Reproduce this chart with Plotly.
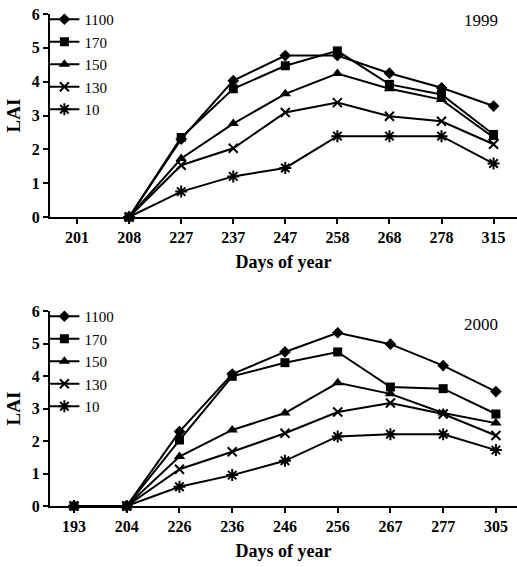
import plotly.graph_objects as go

series_names = ["1100", "170", "150", "130", "10"]
symbols = ["diamond", "square", "triangle-up", "x-thin-open", "asterisk-open"]

days_1999 = ["201", "208", "227", "237", "247", "258", "268", "278", "315"]
lai_1999 = {
    "1100": [None, 0, 2.30, 4.03, 4.77, 4.77, 4.25, 3.82, 3.28],
    "170":  [None, 0, 2.35, 3.79, 4.47, 4.91, 3.92, 3.62, 2.44],
    "150":  [None, 0, 1.73, 2.76, 3.64, 4.24, 3.79, 3.47, 2.35],
    "130":  [None, 0, 1.53, 2.03, 3.09, 3.38, 2.98, 2.83, 2.15],
    "10":   [None, 0, 0.75, 1.20, 1.45, 2.39, 2.39, 2.39, 1.58],
}

days_2000 = ["193", "204", "226", "236", "246", "256", "267", "277", "305"]
lai_2000 = {
    "1100": [0, 0, 2.29, 4.06, 4.74, 5.33, 4.98, 4.32, 3.52],
    "170":  [0, 0, 2.03, 3.99, 4.41, 4.74, 3.66, 3.61, 2.83],
    "150":  [0, 0, 1.52, 2.34, 2.86, 3.79, 3.45, 2.86, 2.55],
    "130":  [0, 0, 1.13, 1.67, 2.24, 2.89, 3.17, 2.83, 2.17],
    "10":   [0, 0, 0.59, 0.95, 1.39, 2.14, 2.21, 2.21, 1.72],
}

FONT = "Liberation Serif"
H = 567

fig = go.Figure()

def add_set(days, data, xa, ya, legend):
    for name, sym in zip(series_names, symbols):
        marker = dict(symbol=sym, size=9, color="black",
                      line=dict(color="black", width=2 if "open" in sym else 0))
        if sym == "asterisk-open":
            marker["size"] = 10
        if sym == "triangle-up":
            marker["size"] = 10
        fig.add_trace(go.Scatter(
            x=days, y=data[name], name=name, mode="lines+markers",
            line=dict(color="black", width=2), marker=marker,
            xaxis=xa, yaxis=ya, legend=legend, cliponaxis=False,
        ))

add_set(days_1999, lai_1999, "x", "y", "legend")
add_set(days_2000, lai_2000, "x2", "y2", "legend2")

axis_common = dict(
    showline=True, linecolor="black", linewidth=2,
    ticks="outside", ticklen=5, tickwidth=2, tickcolor="black",
    showgrid=False, zeroline=False, automargin=False,
    tickfont=dict(family=FONT, size=16, color="black", weight="bold"),
)

def dom(top_px, bot_px):
    return [1 - bot_px / H, 1 - top_px / H]

title_font = dict(family=FONT, size=18, weight="bold", color="black")
lai_font = dict(family=FONT, size=19, weight="bold", color="black")

fig.update_layout(
    width=517, height=567,
    margin=dict(l=50, r=0, t=0, b=0),
    paper_bgcolor="white", plot_bgcolor="white",
    font=dict(family=FONT, color="black"),
    xaxis=dict(type="category", categoryorder="array", categoryarray=days_1999,
               range=[-0.52, 8.45], anchor="y", **axis_common,
               title=dict(text="Days of year", font=title_font, standoff=10)),
    yaxis=dict(range=[0, 6], dtick=1, domain=dom(14, 217), anchor="x", **axis_common,
               title=dict(text="LAI", font=lai_font, standoff=6)),
    xaxis2=dict(type="category", categoryorder="array", categoryarray=days_2000,
                range=[-0.455, 8.4], anchor="y2", **axis_common,
                title=dict(text="Days of year", font=title_font, standoff=10)),
    yaxis2=dict(range=[0, 6], dtick=1, domain=dom(311, 506), anchor="x2", **axis_common,
                title=dict(text="LAI", font=lai_font, standoff=6)),
    legend=dict(x=-0.012, y=1 - 3 / H, xanchor="left", yanchor="top", bgcolor="rgba(0,0,0,0)",
                font=dict(family=FONT, size=15, color="black"), itemwidth=30, tracegroupgap=0),
    legend2=dict(x=-0.012, y=1 - 300 / H, xanchor="left", yanchor="top", bgcolor="rgba(0,0,0,0)",
                 font=dict(family=FONT, size=15, color="black"), itemwidth=30, tracegroupgap=0),
    annotations=[
        dict(text="1999", xref="paper", yref="paper", x=0.963, y=1 - 21 / H, showarrow=False,
             xanchor="right", yanchor="middle", font=dict(family=FONT, size=17, color="black")),
        dict(text="2000", xref="paper", yref="paper", x=0.963, y=1 - 324 / H, showarrow=False,
             xanchor="right", yanchor="middle", font=dict(family=FONT, size=17, color="black")),
    ],
)

fig.write_html("out.html", config={"displayModeBar": False},
               post_script="document.body.style.margin='0';document.body.style.overflow='hidden';")
